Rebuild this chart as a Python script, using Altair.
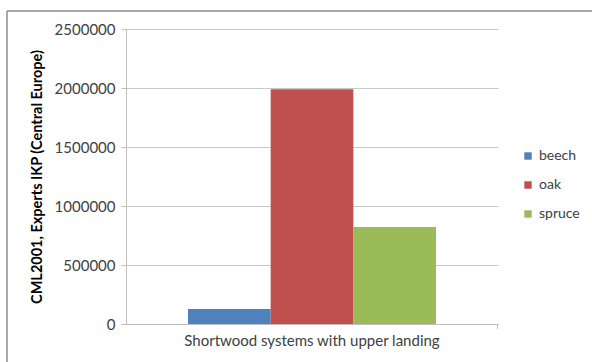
import altair as alt
import pandas as pd

categories = ["Shortwood systems with upper landing"]
species = ["beech", "oak", "spruce"]
values = [127000, 1990000, 822000]
colors = ["#4F81BD", "#C0504D", "#9BBB59"]
y_ticks = [0, 500000, 1000000, 1500000, 2000000, 2500000]

df = pd.DataFrame({
    "system": [categories[0]] * len(species),
    "species": species,
    "value": values,
})

FONT = "Lato"
W, H = 372, 295

bars = alt.Chart(df).mark_bar().encode(
    x=alt.X("system:N", title=None,
            scale=alt.Scale(paddingInner=0, paddingOuter=0.25),
            axis=alt.Axis(labelAngle=0, labelFontSize=15, labelColor="#404040",
                          labelFont=FONT, labelPadding=9, ticks=False,
                          labelLimit=0, grid=False,
                          domainColor="#BFBFBF", domainWidth=1)),
    xOffset=alt.XOffset("species:N", sort=species,
                        scale=alt.Scale(paddingInner=0, paddingOuter=0)),
    y=alt.Y("value:Q", title="CML2001, Experts IKP (Central Europe)",
            scale=alt.Scale(domain=[0, 2500000], nice=False),
            axis=alt.Axis(values=y_ticks, format="d", labelFont=FONT,
                          labelFontSize=15, labelColor="#404040",
                          tickSize=5, tickColor="#BFBFBF", labelPadding=6,
                          gridColor="#C8C8C8", gridWidth=1,
                          domainColor="#BFBFBF", titleFont=FONT,
                          titleFontSize=14.5, titleFontWeight="bold",
                          titleColor="#000000", titlePadding=10)),
    color=alt.Color("species:N", sort=species,
                    scale=alt.Scale(domain=species, range=colors),
                    legend=alt.Legend(title=None, orient="none",
                                      legendX=395, legendY=120,
                                      symbolType="square", symbolSize=55,
                                      symbolStrokeWidth=0,
                                      labelFont=FONT, labelFontSize=14,
                                      labelColor="#404040", rowPadding=15)),
)

frame_left = alt.Chart(pd.DataFrame({"a": [0]})).mark_rule(
    color="#8C8C8C", strokeWidth=1.5, clip=False
).encode(x=alt.value(-119), y=alt.value(-18), y2=alt.value(400))

frame_top = alt.Chart(pd.DataFrame({"a": [0]})).mark_rule(
    color="#8C8C8C", strokeWidth=1.5, clip=False
).encode(x=alt.value(-119), x2=alt.value(600), y=alt.value(-18))

edge_ticks = alt.Chart(pd.DataFrame({"a": [0]})).mark_rule(
    color="#BFBFBF", strokeWidth=1
).encode(
    x=alt.value(W - 0.5), y=alt.value(H), y2=alt.value(H + 5)
)

chart = alt.layer(frame_left, frame_top, bars, edge_ticks).properties(
    width=W, height=H,
    background="white",
    autosize=alt.AutoSizeParams(type="none"),
    padding={"left": 126, "top": 29, "right": 94, "bottom": 38},
).configure_view(stroke="transparent", strokeWidth=0)

chart.save("out.html", embed_options={"renderer": "svg", "actions": False})
